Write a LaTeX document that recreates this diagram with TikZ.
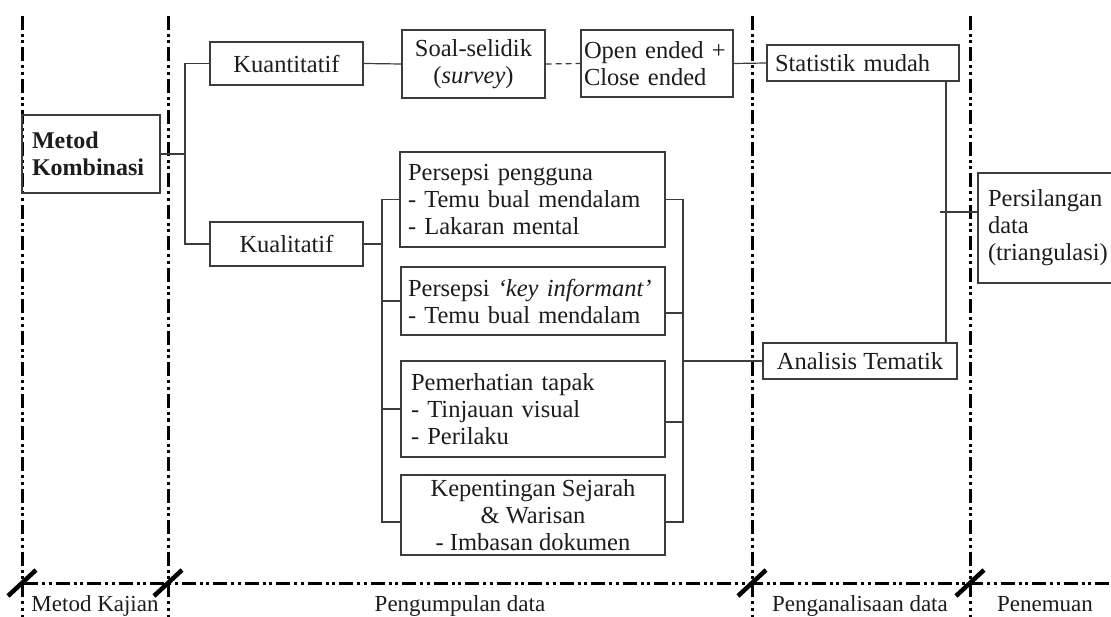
\documentclass[tikz,border=0pt]{standalone}
\usepackage{fontspec}
\setmainfont{Liberation Serif}
\usepackage{xcolor}
\usepackage{tikz}
\usetikzlibrary{calc,positioning}
\definecolor{BoxGray}{RGB}{60,60,60}
\definecolor{InkBlack}{RGB}{28,28,28}

\begin{document}
\begin{tikzpicture}[x=1pt, y=-1pt, text=InkBlack,
	   every node/.style={font=\fontsize{24.5}{27}\selectfont},
	   phasebox/.style 2 args = {rectangle, draw=BoxGray, line width=1.3pt,
	                             minimum width=#1, minimum height=#2,
	                             inner sep=0pt, align=center},
	   notebox/.style 2 args = {rectangle, draw=BoxGray, line width=1.3pt,
	                            text width=#1, minimum height=#2,
	                            inner xsep=10pt, inner ysep=0pt, align=left},
	   link/.style = {draw=BoxGray, line width=1.2pt},
	   divider/.style = {line width=3pt,
	                     dash pattern=on 14pt off 4pt on 3pt off 3.5pt on 3pt off 4pt},
	   cutmark/.style = {line width=4.5pt},
	   phaselabel/.style = {anchor=base, font=\fontsize{23}{27}\selectfont}]
	\useasboundingbox (0,0) rectangle (1111,617);
	\clip (0,0) rectangle (1111,617);

	%% Phase dividers
	\foreach \x in {22,168,752,970} {
		\draw[divider] (\x,16) -- (\x,620);
		\draw[cutmark] (\x-14,596) -- (\x+14,570);
	}
	\draw[divider] (24,583) -- (1115,583);

	%% Phase labels
	\node [phaselabel] (kajian) at (95,611) {Metod Kajian};
	\node [phaselabel] (kumpul) at (460,611) {Pengumpulan data};
	\node [phaselabel] (analisa) at (860,611) {Penganalisaan data};
	\node [phaselabel] (penemuan) at (1045,611) {Penemuan};

	%% Method
	\node [notebox={118pt}{78pt}, inner xsep=10pt,
	       font=\fontsize{24}{27}\selectfont\bfseries] (komb) at (91,154) {Metod\\Kombinasi};
	\node [phasebox={153pt}{43pt}] (kuan) at (286.5,63.5) {Kuantitatif};
	\node [phasebox={153pt}{44pt}] (kual) at (286.5,244) {Kualitatif};

	%% Quantitative branch
	\node [phasebox={143pt}{68pt}] (soal) at (473.5,64) {Soal-selidik\\(\textit{survey})};
	\node [notebox={146pt}{67pt}, inner xsep=3pt] (openclose) at (657,63.5) {Open ended +\\Close ended};
	\node [notebox={176pt}{36pt}, inner xsep=8pt] (statistik) at (863,63) {Statistik mudah};

	%% Qualitative branch
	\node [notebox={249pt}{95pt}, inner xsep=8pt] (persepsi) at (532.5,199.5)
	      {Persepsi pengguna\\- Temu bual mendalam\\- Lakaran mental};
	\node [notebox={250pt}{68pt}, inner xsep=7pt] (keyinf) at (533,301)
	      {Persepsi \textit{`key informant'}\\- Temu bual mendalam};
	\node [notebox={244pt}{96pt}] (pemerhatian) at (533,409)
	      {Pemerhatian tapak\\- Tinjauan visual\\- Perilaku};
	\node [phasebox={264pt}{80pt}] (sejarah) at (533,515)
	      {Kepentingan Sejarah\\\& Warisan\\- Imbasan dokumen};

	%% Analysis and finding
	\node [phasebox={194pt}{36pt}] (tematik) at (860,361) {Analisis Tematik};
	\node [notebox={130pt}{110pt}] (silang) at (1053,228) {Persilangan\\data\\(triangulasi)};

	%% Forks
	\coordinate (forkA) at (185,154);
	\coordinate (lbrk) at (382,244);
	\coordinate (rbrk) at (683,361);
	\coordinate (vlink) at (946,212);

	%% Simple paths
	\draw[link] (komb.east) -- (forkA);
	\draw[link] (kuan.west) -| (forkA) |- (kual.west);
	\draw[link] (kuan.east) -- (soal.west);
	\draw[link, dashed, dash pattern=on 6pt off 4pt] (soal.east) -- (openclose.west);
	\draw[link] (openclose.east) -- (statistik.west);
	\draw[link] (kual.east) -- (lbrk);

	%% Brackets round the qualitative boxes
	\draw[link] (persepsi.west) -| (lbrk) |- ([yshift=-7pt]sejarah.west);
	\foreach \n in {keyinf,pemerhatian}
		\draw[link] (\n.west) -- (\n.west -| lbrk);
	\draw[link] (persepsi.east) -| (rbrk) |- ([yshift=-7pt]sejarah.east);
	\draw[link] ([yshift=-12pt]keyinf.east) -- ++(18,0);
	\draw[link] ([yshift=-13pt]pemerhatian.east) -- ++(18,0);
	\draw[link] (rbrk) -- (tematik.west);

	%% Triangulation
	\draw[link] (statistik.south -| vlink) -- (tematik.north -| vlink);
	\draw[link] ([xshift=-6pt]vlink) -- (vlink -| silang.west);
\end{tikzpicture}
\end{document}
